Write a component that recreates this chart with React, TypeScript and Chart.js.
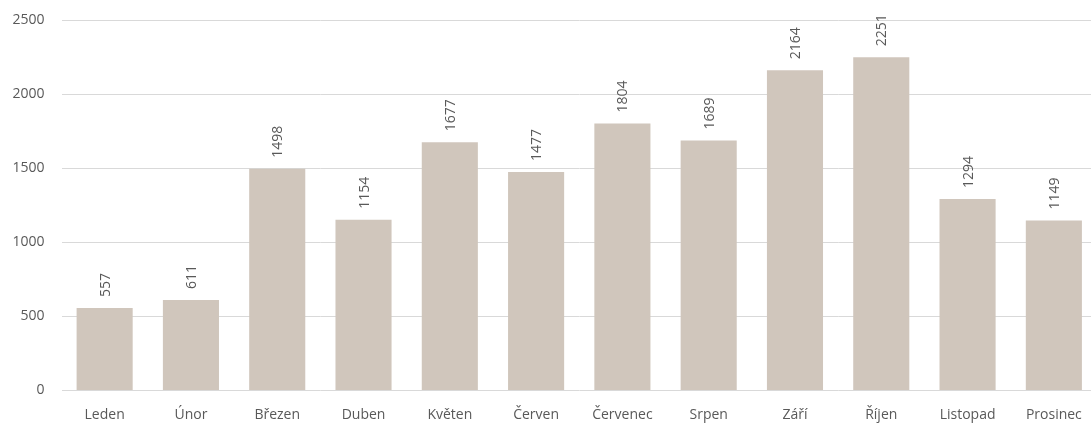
import React, { useEffect, useRef } from "react";
import { Chart, registerables } from "chart.js";

Chart.register(...registerables);

const categories = ["Leden", "Únor", "Březen", "Duben", "Květen", "Červen", "Červenec", "Srpen", "Září", "Říjen", "Listopad", "Prosinec"];
const values = [557, 611, 1498, 1154, 1677, 1477, 1804, 1689, 2164, 2251, 1294, 1149];
const yTicks = [0, 500, 1000, 1500, 2000, 2500];

const FONT = "'Open Sans', sans-serif";
const TEXT = "#595959";

const valueLabels = {
  id: "valueLabels",
  afterDatasetsDraw(chart: any) {
    const ctx = chart.ctx;
    const meta = chart.getDatasetMeta(0);
    ctx.save();
    ctx.font = `14px ${FONT}`;
    ctx.fillStyle = TEXT;
    ctx.textAlign = "left";
    ctx.textBaseline = "middle";
    meta.data.forEach((bar: any, i: number) => {
      ctx.save();
      ctx.translate(bar.x + 1, bar.y - 11);
      ctx.rotate(-Math.PI / 2);
      ctx.fillText(String(values[i]), 0, 0);
      ctx.restore();
    });
    ctx.restore();
  },
};

export default function App() {
  const ref = useRef<HTMLCanvasElement>(null);
  useEffect(() => {
    document.body.style.margin = "0";
    const chart = new Chart(ref.current!, {
      type: "bar",
      data: {
        labels: categories,
        datasets: [
          {
            data: values,
            backgroundColor: "#D0C6BC",
            categoryPercentage: 1,
            barPercentage: 0.65,
          },
        ],
      },
      options: {
        animation: false,
        responsive: true,
        maintainAspectRatio: false,
        layout: { padding: { left: 0, right: 0, top: 20.5, bottom: 0 } },
        plugins: { legend: { display: false }, tooltip: { enabled: false } },
        scales: {
          x: {
            grid: { display: false },
            border: { display: false },
            ticks: { color: TEXT, font: { family: FONT, size: 14 }, padding: 8, maxRotation: 0 },
            afterFit: (s: any) => { s.height = 32.5; },
          },
          y: {
            min: 0,
            max: 2500,
            afterBuildTicks: (s: any) => { s.ticks = yTicks.map((v) => ({ value: v })); },
            grid: { color: "#D9D9D9", drawTicks: false },
            border: { display: false },
            ticks: {
              color: TEXT,
              font: { family: FONT, size: 14 },
              padding: 17,
              callback: (v: any) => String(v),
            },
            afterFit: (s: any) => {
              s.width = 61.5;
              s.paddingTop = 0;
              s.paddingBottom = 0;
            },
          },
        },
      },
      plugins: [valueLabels],
    });
    return () => chart.destroy();
  }, []);
  return (
    <div style={{ position: "relative", width: 1091, height: 423, overflow: "hidden" }}>
      <div style={{ position: "relative", width: 1097, height: 423 }}>
        <canvas ref={ref} />
      </div>
    </div>
  );
}
